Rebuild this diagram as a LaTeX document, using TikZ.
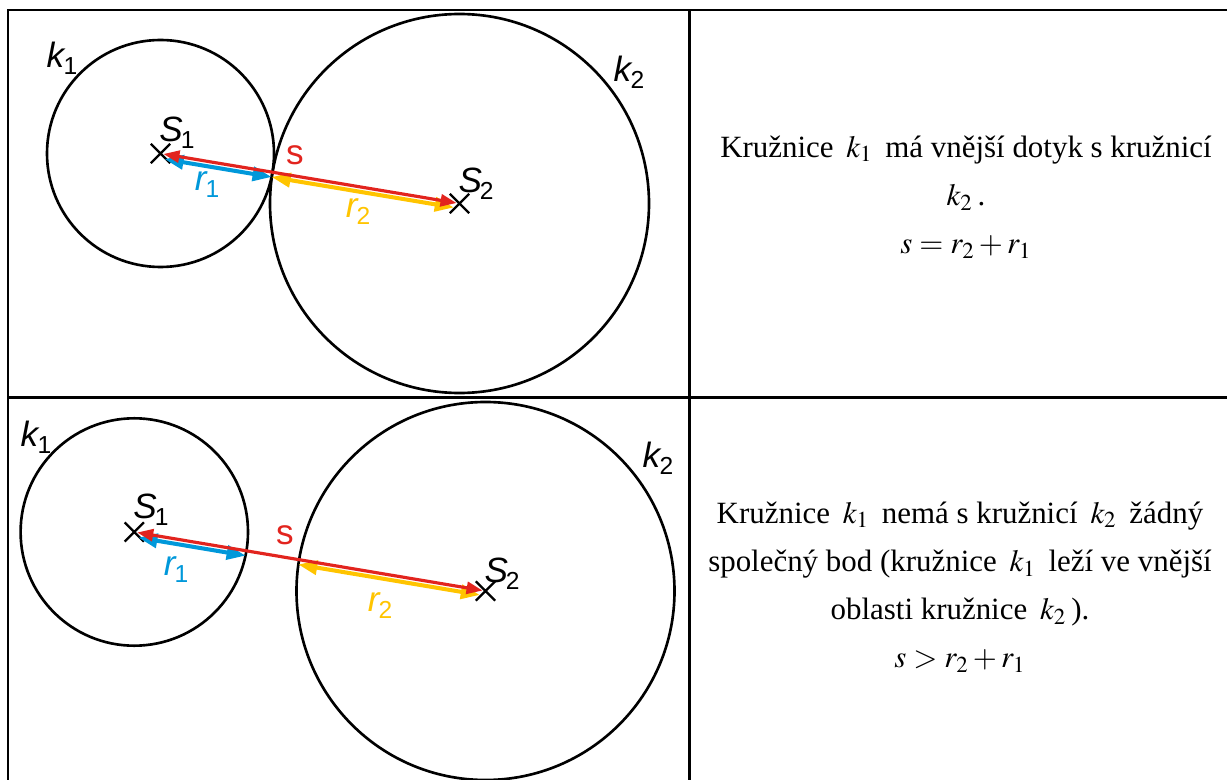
\documentclass[tikz,border=0pt]{standalone}
\usepackage{mathptmx}
\usepackage{fontspec}
\setmainfont{Liberation Serif}
\setsansfont{Liberation Sans}
\usetikzlibrary{calc, arrows.meta, shapes.misc}
\definecolor{sred}{RGB}{226,36,30}
\definecolor{sblue}{RGB}{0,152,218}
\definecolor{syellow}{RGB}{255,196,0}
\newcommand{\ksub}[2]{\textit{#1}\kern-0.06em\raisebox{-4pt}{\fontsize{14}{14}\selectfont #2}}

\begin{document}
\begin{tikzpicture}[
    x=0.02cm, y=-0.02cm,
    frame/.style={line width=1.7pt},
    kruh/.style={line width=1.5pt},
    stred/.style={cross out, draw, line width=1.3pt, minimum size=3.4mm, inner sep=0pt},
    sdist/.style={{Triangle[length=3.2mm,width=2.4mm]}-{Triangle[length=3.2mm,width=2.4mm]},
        color=sred, line width=1.8pt, shorten <=0.6mm, shorten >=0.6mm},
    rone/.style={{Triangle[length=3.8mm,width=2.8mm]}-{Triangle[length=3.8mm,width=2.8mm]},
        color=sblue, line width=2.3pt, shorten <=1mm},
    rtwo/.style={rone, color=syellow, shorten <=0mm, shorten >=1mm},
    lower/.style={transform canvas={shift={(-0.8,4.8)}}},
    lbl/.style={font=\fontsize{20}{20}\selectfont\sffamily, inner sep=0pt},
    txt/.style={font=\fontsize{17.6}{27.4}\selectfont, align=center, inner sep=0pt}
]
\useasboundingbox (0,0) rectangle (1227,780);

% table
\draw[frame] (8,780) -- (8,10) -- (1227,10);
\draw[frame] (8,397.5) -- (1227,397.5);
\draw[frame] (689,10) -- (689,780);

% top: external tangency
\coordinate (S1a) at (160.5,153.5);
\coordinate (S2a) at (459.5,203.5);
\coordinate (Ta) at ($(S1a)!0.3743!(S2a)$);
\draw[kruh] (S1a) circle[radius=113.5];
\draw[kruh] (S2a) circle[radius=189.5];
\node[stred] (X1a) at (S1a) {};
\node[stred] (X2a) at (S2a) {};
\draw[rone, lower] (S1a) -- (Ta);
\draw[rtwo, lower] (Ta) -- (S2a);
\draw[sdist] (S1a) -- (S2a);

\node[lbl] (k1a) at (62,58) {\ksub{k}{1}};
\node[lbl] (k2a) at (629,72) {\ksub{k}{2}};
\node[lbl] (n1a) at (177,133) {\ksub{S}{1}};
\node[lbl] (n2a) at (476,184) {\ksub{S}{2}};
\node[lbl, text=sred] (sa) at (295,155) {s};
\node[lbl, text=sblue] (r1a) at (207,185) {\ksub{r}{1}};
\node[lbl, text=syellow] (r2a) at (358,212) {\ksub{r}{2}};

\node[txt] (ta) at (966,197) {Kružnice \,$k_1$\, má vnější dotyk s kružnicí\\
  $k_2$\,.\\
  $s = r_2 + r_1$};

% bottom: no common point
\coordinate (S1b) at (134.3,532);
\coordinate (S2b) at (485.5,591);
\coordinate (P1b) at ($(S1b)!0.3193!(S2b)$);
\coordinate (P2b) at ($(S2b)!0.5307!(S1b)$);
\draw[kruh] (S1b) circle[radius=113.7];
\draw[kruh] (S2b) circle[radius=189];
\node[stred] (X1b) at (S1b) {};
\node[stred] (X2b) at (S2b) {};
\draw[rone, lower] (S1b) -- (P1b);
\draw[rtwo, lower] (P2b) -- (S2b);
\draw[sdist] (S1b) -- (S2b);

\node[lbl] (k1b) at (36,437) {\ksub{k}{1}};
\node[lbl] (k2b) at (658,458) {\ksub{k}{2}};
\node[lbl] (n1b) at (151,510) {\ksub{S}{1}};
\node[lbl] (n2b) at (502,574) {\ksub{S}{2}};
\node[lbl, text=sred] (sb) at (285,535) {s};
\node[lbl, text=sblue] (r1b) at (176,570) {\ksub{r}{1}};
\node[lbl, text=syellow] (r2b) at (380,606) {\ksub{r}{2}};

\node[txt] (tb) at (960,587) {Kružnice \,$k_1$\, nemá s kružnicí \,$k_2$\, žádný\\
  společný bod (kružnice \,$k_1$\, leží ve vnější\\
  oblasti kružnice \,$k_2$\,).\\
  $s > r_2 + r_1$};
\end{tikzpicture}
\end{document}
